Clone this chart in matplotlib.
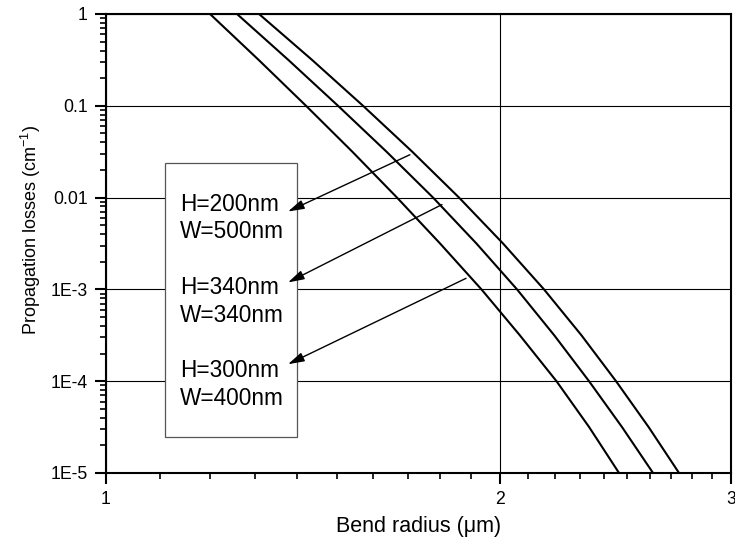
import numpy as np
import matplotlib.pyplot as plt
from matplotlib.patches import Rectangle
from matplotlib.ticker import FixedLocator, NullFormatter

plt.rcParams['font.family'] = ['Liberation Sans', 'DejaVu Sans']

# losses at each half decade (cm^-1)
losses = [1, 0.3162, 0.1, 0.03162, 0.01, 3.162e-3, 1e-3, 3.162e-4, 1e-4, 3.162e-5, 1e-5]
# bend radius (um) where each curve crosses those levels
r_300_400 = [1.2006, 1.3077, 1.4213, 1.5418, 1.6678, 1.7989, 1.9347, 2.0697, 2.2074, 2.3378, 2.4639]
r_340_340 = [1.2589, 1.3777, 1.5035, 1.6373, 1.7769, 1.9176, 2.0595, 2.1987, 2.3374, 2.4769, 2.6157]
r_200_500 = [1.3086, 1.4364, 1.5711, 1.7130, 1.8599, 2.0094, 2.1595, 2.3064, 2.4510, 2.5955, 2.7380]

ytick_vals = [1, 0.1, 0.01, 1e-3, 1e-4, 1e-5]
ytick_labels = ['1', '0.1', '0.01', '1E-3', '1E-4', '1E-5']
xtick_vals = [1, 2, 3]

box_lines = ['H=200nm', 'W=500nm', 'H=340nm', 'W=340nm', 'H=300nm', 'W=400nm']
box_line_y = [0.586, 0.527, 0.405, 0.344, 0.224, 0.163]

# arrows: (tail on curve) -> (head at box)
arrow_tails = [(1.706, 0.0293), (1.805, 0.00839), (1.883, 0.00132)]
arrow_heads = [(1.377, 0.00705), (1.377, 0.00119), (1.377, 1.53e-4)]

fig = plt.figure(figsize=(7.35, 5.48), dpi=100)
ax = fig.add_axes([0.1442, 0.1369, 0.8504, 0.8376])

for r in (r_300_400, r_340_340, r_200_500):
    ax.plot(r, losses, color='black', lw=1.5, zorder=3)

ax.set_xscale('log')
ax.set_yscale('log')
ax.set_xlim(1, 3)
ax.set_ylim(1e-5, 1)

ax.xaxis.set_major_locator(FixedLocator(xtick_vals))
ax.set_xticklabels([str(v) for v in xtick_vals])
ax.xaxis.set_minor_locator(FixedLocator(list(np.arange(1.1, 2.0, 0.1)) + list(np.arange(2.1, 3.0, 0.1))))
ax.xaxis.set_minor_formatter(NullFormatter())
ax.yaxis.set_major_locator(FixedLocator(ytick_vals))
ax.set_yticklabels(ytick_labels)
ax.yaxis.set_minor_locator(FixedLocator([m * 10.0 ** e for e in range(-5, 0) for m in range(2, 10)]))
ax.yaxis.set_minor_formatter(NullFormatter())

ax.tick_params(which='major', direction='out', length=8, width=1.5, labelsize=12.7, pad=5)
ax.tick_params(which='minor', direction='out', length=4, width=1.2)
ax.grid(True, which='major', color='black', lw=0.8)
for s in ax.spines.values():
    s.set_linewidth(1.5)

ax.set_xlabel('Bend radius (\u03bcm)', fontsize=15.5, labelpad=6)
ax.set_ylabel('Propagation losses (cm$^{\\mathregular{-1}}$)', fontsize=13)
ax.yaxis.set_label_coords(-0.10, 0.53)

box = Rectangle((0.0944, 0.0784), 0.2112, 0.597, transform=ax.transAxes,
                facecolor='white', edgecolor='#555555', lw=0.9, zorder=4)
ax.add_patch(box)
for txt, yy in zip(box_lines, box_line_y):
    ax.text(0.1184, yy, txt, transform=ax.transAxes, fontsize=16.3,
            va='center', ha='left', zorder=5)

for tail, head in zip(arrow_tails, arrow_heads):
    ax.annotate('', xy=head, xytext=tail,
                arrowprops=dict(arrowstyle='-|>,head_length=0.7,head_width=0.2',
                                color='black', lw=1.0, mutation_scale=14,
                                shrinkA=0, shrinkB=0),
                zorder=6)

fig.savefig('out.png', dpi=100)
